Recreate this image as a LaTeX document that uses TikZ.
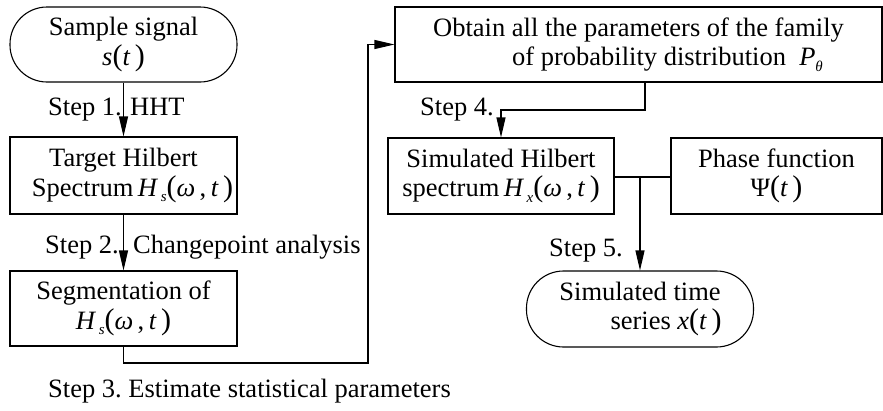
\documentclass[tikz,border=0pt]{standalone}
\usepackage{fontspec}
\setmainfont{Liberation Serif}
\usetikzlibrary{arrows.meta}
\frenchspacing
\newcommand{\iv}[1]{\textit{#1}}
\newcommand{\lp}{{\fontsize{30}{30}\selectfont(}}
\newcommand{\rp}{{\fontsize{30}{30}\selectfont)}}
\newcommand{\Hsub}[1]{\iv{H}\raisebox{-0.45ex}{\fontsize{15}{15}\selectfont\,\iv{#1}}\lp\iv{ω}\,,\,\iv{t}\,\rp}
\begin{document}
\begin{tikzpicture}[x=1pt,y=-1pt,
  every node/.style={font=\fontsize{26.5}{29.5}\selectfont},
  box/.style={draw,line width=1.1pt,align=center,inner sep=0pt},
  stad/.style={box,rounded corners=37pt},
  lbl/.style={anchor=base west,inner sep=0pt},
  arr/.style={line width=1.1pt,-{Triangle[length=20pt,width=9pt]}},
  ln/.style={line width=1.1pt}]
\useasboundingbox (0,0) rectangle (883,410);
\node[stad,minimum width=227pt,minimum height=75pt] (ss) at (123.5,44.5) {Sample signal\\\iv{s}\lp\iv{t}\,\rp};
\node[box,minimum width=227pt,minimum height=77pt] (th) at (123.5,175.5) {Target Hilbert\\\hspace*{18pt}Spectrum\,\Hsub{s}};
\node[box,minimum width=227pt,minimum height=75pt] (seg) at (123.5,308.5) {Segmentation of\\\Hsub{s}};
\node[box,minimum width=487pt,minimum height=75pt] (obt) at (638.5,44.5) {Obtain all the parameters of the family\\\hspace*{58pt}of probability distribution \ \iv{P}\raisebox{-0.45ex}{\fontsize{15}{15}\selectfont\iv{θ}}};
\node[box,minimum width=226pt,minimum height=76pt] (shx) at (501,176) {Simulated Hilbert\\spectrum\,\Hsub{x}};
\node[box,minimum width=211pt,minimum height=76pt] (ph) at (776.5,176) {Phase function\\Ψ\lp\iv{t}\,\rp};
\node[stad,minimum width=227pt,minimum height=76pt] (sim) at (640,309) {Simulated time\\\hspace*{52pt}series \iv{x}\lp\iv{t}\,\rp};
\coordinate (c3) at (368,363);
\coordinate (c4) at (645,110);
\coordinate (j) at (640,177);
\draw[arr] (ss) -- (th);
\draw[arr] (th) -- (seg);
\draw[arr] (seg.south) |- (c3) |- (obt.west);
\draw[arr] (obt.south -| c4) -- (c4) -| (shx.north);
\draw[ln] (shx.east |- j) -- (ph.west |- j);
\draw[arr] (j) -- (sim.north);
\node[lbl] (l1) at (48,115) {Step 1.};
\node[lbl] (l1b) at (130,115) {HHT};
\node[lbl] (l2) at (45,253) {Step 2.};
\node[lbl] (l2b) at (133,253) {Changepoint analysis};
\node[lbl] (l3) at (48,397) {Step 3. Estimate statistical parameters};
\node[lbl] (l4) at (420,115) {Step 4.};
\node[lbl] (l5) at (549,256) {Step 5.};
\end{tikzpicture}
\end{document}
